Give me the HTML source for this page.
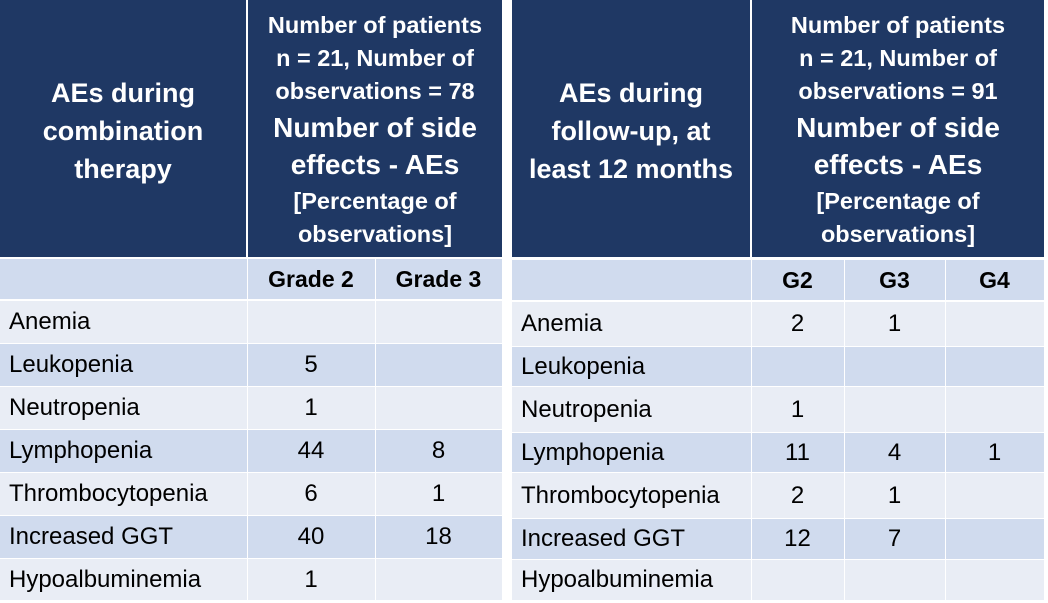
<!DOCTYPE html>
<html><head><meta charset="utf-8"><style>
html,body{margin:0;padding:0;background:#fff;}
body{width:1048px;height:603px;position:relative;overflow:hidden;font-family:"Liberation Sans",sans-serif;}
.c{position:absolute;box-sizing:border-box;}
.d{background:#1F3864;}
.h{background:#D0DBEE;}
.l{background:#E9EDF5;}
.t{position:absolute;white-space:nowrap;font-size:24px;color:#000;}
.w{position:absolute;white-space:nowrap;color:#fff;font-weight:bold;text-align:center;transform:translateX(-50%);}
.b{font-weight:bold;font-size:23px;}
</style></head><body>
<div class="c d" style="left:0;top:0;width:246px;height:257px"></div>
<div class="c d" style="left:248px;top:0;width:254px;height:257px"></div>
<div class="w" style="left:123px;top:74px;font-size:27px;line-height:38px">AEs during<br>combination<br>therapy</div>
<div class="w" style="left:375px;top:9px;font-size:23.5px;line-height:33px">Number of patients<br>n = 21, Number of<br>observations = 78</div>
<div class="w" style="left:375px;top:109px;font-size:28px;line-height:37px">Number of side<br>effects - AEs</div>
<div class="w" style="left:375px;top:185px;font-size:23.5px;line-height:33px">[Percentage of<br>observations]</div>
<div class="c d" style="left:512px;top:0;width:238px;height:257px"></div>
<div class="c d" style="left:752px;top:0;width:292px;height:257px"></div>
<div class="w" style="left:631px;top:74px;font-size:27px;line-height:38px">AEs during<br>follow-up, at<br>least 12 months</div>
<div class="w" style="left:898px;top:9px;font-size:23.5px;line-height:33px">Number of patients<br>n = 21, Number of<br>observations = 91</div>
<div class="w" style="left:898px;top:109px;font-size:28px;line-height:37px">Number of side<br>effects - AEs</div>
<div class="w" style="left:898px;top:185px;font-size:23.5px;line-height:33px">[Percentage of<br>observations]</div>
<div id="L"></div><div id="R"></div>
<script>
function grid(x0,cols,rows,data,hdr,hy){
 let s='';
 let xs=[x0].concat(cols);
 for(let i=0;i<xs.length-1;i++){
  s+=`<div class="c h" style="left:${xs[i]+(i?1:0)}px;top:${hy}px;width:${xs[i+1]-xs[i]-(i?1:0)}px;height:${rows[0]-hy-1}px"></div>`;
  if(i>0) s+=`<div class="t b" style="left:${xs[i]}px;width:${xs[i+1]-xs[i]}px;text-align:center;top:${(hy+rows[0])/2-14}px">${hdr[i-1]}</div>`;
 }
 for(let r=0;r<data.length;r++){
  let y0=rows[r]+1,y1=rows[r+1];
  let cls=r%2==0?'l':'h';
  for(let i=0;i<xs.length-1;i++){
   s+=`<div class="c ${cls}" style="left:${xs[i]+(i?1:0)}px;top:${y0}px;width:${xs[i+1]-xs[i]-(i?1:0)}px;height:${y1-y0}px"></div>`;
   let v=data[r][i]; if(!v) continue;
   let cy=(y0+y1)/2-14;
   if(i==0) s+=`<div class="t" style="left:${x0+9}px;top:${cy}px">${v}</div>`;
   else s+=`<div class="t" style="left:${xs[i]}px;width:${xs[i+1]-xs[i]}px;text-align:center;top:${cy}px">${v}</div>`;
  }
 }
 return s;
}
document.getElementById('L').innerHTML=grid(0,[247,375,502],[300,343,386,429,472,515,558,600],
 [['Anemia','',''],['Leukopenia','5',''],['Neutropenia','1',''],['Lymphopenia','44','8'],['Thrombocytopenia','6','1'],['Increased GGT','40','18'],['Hypoalbuminemia','1','']],
 ['Grade 2','Grade 3'],259);
document.getElementById('R').innerHTML=grid(512,[751,844,945,1044],[301,346,386,432,472,518,559,600],
 [['Anemia','2','1',''],['Leukopenia','','',''],['Neutropenia','1','',''],['Lymphopenia','11','4','1'],['Thrombocytopenia','2','1',''],['Increased GGT','12','7',''],['Hypoalbuminemia','','','']],
 ['G2','G3','G4'],260);
</script>
</body></html>
